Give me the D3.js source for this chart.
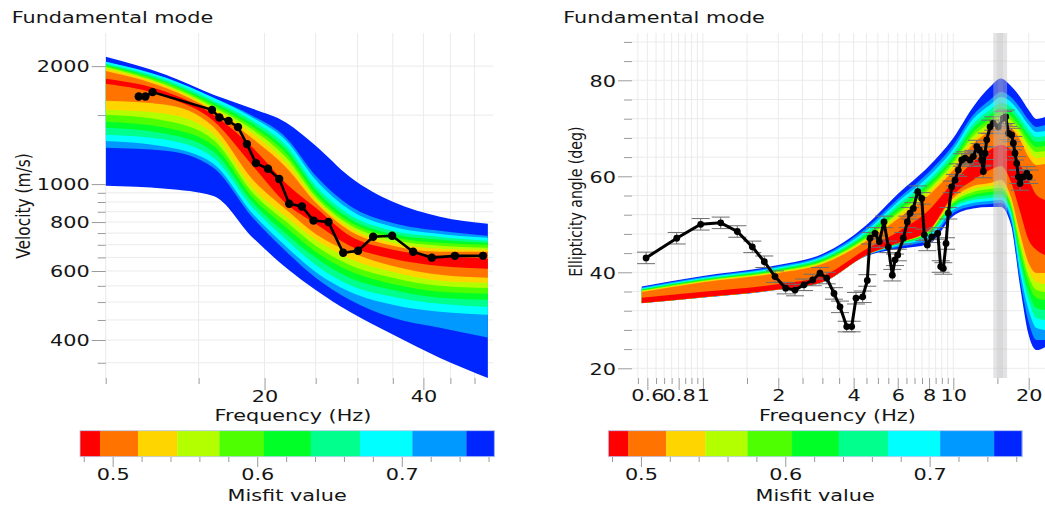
<!DOCTYPE html>
<html><head><meta charset="utf-8">
<script src="https://cdn.jsdelivr.net/npm/d3@7"></script>
<style>
html,body{margin:0;padding:0;background:#fff;}
svg text{font-family:"DejaVu Sans",sans-serif;fill:#151515;}
</style></head>
<body><svg id="c" width="1045" height="507"></svg>
<script>
// ---------- misfit classes (colour bar, best -> worst) ----------
const misfitColors = ["#ff0000","#ff7300","#ffd500","#b3ff00","#4dff00","#00ff26","#00ff8c","#00ffff","#0099ff","#0026ff"];
const misfitEdges  = [0.4774,0.4912,0.5175,0.5447,0.5738,0.6047,0.637,0.6711,0.7073,0.7447,0.764];
const misfitTicks  = [0.48,0.50,0.52,0.54,0.56,0.58,0.60,0.62,0.64,0.66,0.68,0.70,0.72,0.74,0.76];
const misfitLabels = [0.5,0.6,0.7];

// ---------- dispersion (left) ----------
const dispBandFreq = [10,13,16,19,22,25,29,35,43,53];
// velocity envelopes (m/s) of each misfit class, worst (blue) first -> best (red) last
const dispUpper = [
 [2112,1900,1690,1556,1434,1253,1044,901,825,792],
 [2051,1867,1660,1493,1312,1050,881,796,760,738],
 [2051,1867,1660,1476,1289,1026,860,778,746,730],
 [2027,1845,1631,1450,1253,990,835,760,733,717],
 [2015,1823,1612,1425,1223,967,816,746,721,708],
 [2003,1813,1593,1400,1195,945,801,733,708,700],
 [1991,1792,1574,1376,1167,928,787,721,696,688],
 [1969,1781,1556,1344,1133,912,774,708,684,680],
 [1945,1760,1538,1305,1101,897,760,696,672,672],
 [1856,1720,1502,1238,1002,870,738,680,656,645]
];
const dispLower = [
 [990,973,933,730,611,537,472,413,360,320],
 [1238,1216,1101,821,672,577,507,456,430,406],
 [1289,1245,1127,840,692,597,531,492,472,464],
 [1336,1297,1167,870,721,622,553,516,495,486],
 [1392,1344,1209,897,746,649,577,537,513,507],
 [1442,1392,1253,923,774,672,600,556,531,525],
 [1502,1450,1297,950,801,696,622,577,550,543],
 [1547,1511,1344,978,825,721,645,597,567,560],
 [1631,1593,1400,1026,860,746,672,618,587,577],
 [1803,1670,1450,1113,891,792,696,645,618,608]
];
const dispFreq = [11.55,11.89,12.27,15.9,16.42,17.09,17.81,18.52,19.26,20.3,21.32,22.27,23.54,24.76,26.43,28.19,30.08,32.13,34.9,38.25,41.5,45.9,51.9];
const dispVel  = [1673,1673,1717,1547,1479,1450,1398,1265,1131,1094,1030,891,877,807,800,668,676,734,738,672,649,656,656];
const dispFreqTicks  = [10,15,20,25,30,35,40,45,50];
const dispFreqLabels = [20,40];
const dispVelTicks   = [350,400,450,500,550,600,650,700,750,800,850,900,950,1000,1500,2000];
const dispVelLabels  = [400,600,800,1000,2000];

// ---------- ellipticity (right) ----------
const ellBandFreq = [0.57,1,2,3,4.5,6,8,10,12,14,15.5,17,18.5,20,21.5,23.3];
const ellUpper = [
 [37.04,39.23,41.52,43.81,49.85,56.31,62.15,67.98,74.44,78.60,80.37,78.81,76.52,73.81,71.94,72.35],
 [36.83,39.02,41.25,43.50,49.23,55.27,60.90,66.52,72.77,75.90,77.56,76.52,74.23,71.73,70.27,70.69],
 [36.67,38.81,41.00,43.19,48.71,54.65,60.06,65.69,71.94,74.85,76.52,75.48,73.19,70.69,69.23,69.44],
 [36.52,38.65,40.79,42.92,48.29,54.02,59.23,64.85,70.90,73.81,75.27,74.44,72.15,69.65,68.19,68.40],
 [36.40,38.50,40.58,42.67,47.88,53.40,58.60,64.02,70.06,72.77,74.23,73.40,71.10,68.60,67.15,67.35],
 [36.27,38.35,40.38,42.42,47.46,52.77,57.98,63.40,69.23,71.94,73.40,72.56,70.27,67.56,66.10,66.31],
 [36.15,38.21,40.21,42.19,47.15,52.25,57.35,62.77,68.40,71.10,72.56,71.73,69.44,66.52,65.06,65.27],
 [36.04,38.08,40.06,41.94,46.83,51.73,56.73,62.15,67.56,70.27,71.73,70.90,68.60,65.48,63.81,64.02],
 [35.90,37.94,39.85,41.73,46.52,51.10,56.10,61.31,66.73,69.44,70.69,70.06,67.56,64.02,62.35,62.56],
 [34.69,35.94,37.56,39.23,44.85,48.40,52.98,58.81,63.00,65.48,66.52,65.48,62.35,59.23,56.10,55.06]
];
const ellLower = [
 [33.56,34.75,36.35,37.88,43.40,44.85,45.90,51.73,53.29,53.60,53.60,49.85,36.94,26.94,23.81,24.44],
 [33.60,34.77,36.40,37.92,43.50,45.27,46.73,52.35,53.81,54.23,54.44,50.69,38.40,29.65,25.90,25.90],
 [33.60,34.79,36.42,37.94,43.54,45.58,47.35,52.98,54.44,54.85,55.06,51.52,40.06,32.15,28.40,27.98],
 [33.60,34.79,36.42,37.98,43.60,45.79,47.77,53.40,55.06,55.48,55.69,52.35,41.52,34.23,30.48,30.06],
 [33.60,34.79,36.42,37.98,43.60,45.90,48.08,53.81,55.58,56.10,56.31,52.98,42.98,35.90,32.56,32.15],
 [33.60,34.79,36.42,37.98,43.60,46.00,48.29,54.23,56.10,56.73,56.94,53.60,44.23,37.56,34.65,34.23],
 [33.60,34.79,36.42,37.98,43.60,46.06,48.50,54.65,56.73,57.35,57.56,54.23,45.48,39.02,36.31,35.90],
 [33.60,34.79,36.42,37.98,43.60,46.10,48.60,55.06,57.35,57.98,58.19,54.85,46.73,40.48,37.98,37.56],
 [33.60,34.79,36.42,37.98,43.60,46.10,48.71,55.48,57.98,58.60,59.23,55.69,47.98,41.94,39.85,39.85],
 [33.60,34.79,36.42,37.98,43.60,46.10,48.81,56.10,59.23,61.31,62.15,58.81,52.56,46.73,44.65,43.60]
];
const ellFreq = [0.593,0.786,0.980,1.178,1.372,1.575,1.759,1.941,2.141,2.333,2.534,2.745,2.935,3.122,3.339,3.528,3.753,3.929,4.088,4.347,4.535,4.65,4.868,5.065,5.289,5.50,5.708,5.852,5.999,6.316,6.553,6.717,6.923,7.21,7.48,7.66,7.875,8.20,8.665,8.907,9.125,9.354,9.553,9.857,10.16,10.47,10.81,11.14,11.66,12.02,12.41,12.71,12.99,13.18,13.39,13.6,14.02,14.45,15.13,15.85,16.20,16.59,17.11,17.37,17.64,17.92,18.19,18.47,19.04,19.65,20.12];
const ellAngle = [43.0,47.1,50.0,50.3,48.5,45.3,42.2,39.1,36.7,36.3,37.4,38.4,39.8,38.8,35.6,32.8,28.7,28.7,34.6,34.9,38.3,47.1,48.1,46.4,50.5,45.3,39.4,42.6,43.6,47.1,50.5,52.3,53.3,56.8,55.4,47.8,45.7,47.4,48.1,41.2,40.8,46.0,52.3,57.8,59.2,61.3,63.4,63.8,63.4,64.1,66.2,65.5,63.4,61.0,64.8,67.6,70.3,71.0,70.3,72.1,72.4,69.0,68.6,66.9,64.8,62.7,59.9,58.5,59.9,60.6,59.9];
const ellErr   = [1.2,1.2,1.2,1.2,1.2,1.2,1.2,1.2,1.2,1.2,1.2,1.2,1.2,1.2,1.2,1.2,1.1,1.1,1.2,1.2,1.2,1.2,1.2,1.2,1.2,1.2,1.2,1.2,1.2,1.2,1.2,1.2,1.2,1.2,1.2,1.2,1.2,1.2,1.2,1.2,1.2,1.2,1.2,1.2,1.2,1.3,1.3,1.3,1.3,1.3,1.3,1.3,1.3,1.3,1.3,1.4,1.4,1.4,1.4,1.4,1.4,1.4,1.4,1.4,1.4,1.4,1.4,1.4,1.4,1.4,1.4];
const ellFreqTicks  = [0.55,0.6,0.65,0.7,0.75,0.8,0.85,0.9,0.95,1,1.5,2,2.5,3,3.5,4,4.5,5,5.5,6,6.5,7,7.5,8,8.5,9,9.5,10,15,20];
const ellFreqLabels = [0.6,0.8,1,2,4,6,8,10,20];
const ellAngleTicks = [20,24,28,32,36,40,44,48,52,56,60,64,68,72,76,80,84,88];
const ellAngleLabels= [20,40,60,80];
const peakBand = [14.45,16.4];
const peakCore = [15.1,15.8];

// ---------- drawing ----------
const SX = 1.3, FS = 16;
const svg = d3.select('#c');
const bandColors = misfitColors.slice().reverse(); // worst -> best
svg.append('defs');

function stext(g, x, y, s, anchor, size, rot){
  return g.append('text')
    .attr('transform', `translate(${x},${y}) scale(${SX},1)` + (rot ? ' rotate(-90)' : ''))
    .attr('text-anchor', anchor).style('font-size', size + 'px').text(s);
}

function panel(opt){
  const g = svg.append('g');
  const {x, y, xTicks, xLabels, yTicks, yLabels, x0, x1, y0, y1, clipId} = opt;
  g.append('g').selectAll('line').data(xTicks).join('line')
    .attr('x1', d => x(d)).attr('x2', d => x(d)).attr('y1', y0).attr('y2', y1)
    .attr('stroke', '#ebebeb').attr('stroke-width', 1);
  g.append('g').selectAll('line').data(yTicks).join('line')
    .attr('x1', x0).attr('x2', x1).attr('y1', d => y(d)).attr('y2', d => y(d))
    .attr('stroke', '#ebebeb').attr('stroke-width', 1);
  const fmt = d => String(d);
  const axM = g.append('g').attr('transform', `translate(0,${y1})`)
    .call(d3.axisBottom(x).tickValues(xTicks.filter(t => !xLabels.includes(t))).tickSize(6).tickFormat(''));
  const axJ = g.append('g').attr('transform', `translate(0,${y1})`)
    .call(d3.axisBottom(x).tickValues(xLabels).tickSize(12).tickFormat(fmt));
  const ayM = g.append('g').attr('transform', `translate(${x0},0)`)
    .call(d3.axisLeft(y).tickValues(yTicks.filter(t => !yLabels.includes(t))).tickSize(8).tickFormat(''));
  const ayJ = g.append('g').attr('transform', `translate(${x0},0)`)
    .call(d3.axisLeft(y).tickValues(yLabels).tickSize(14).tickFormat(fmt));
  [axM, axJ, ayM, ayJ].forEach(a => { a.select('.domain').remove(); a.selectAll('line').attr('stroke', '#9a9a9a'); });
  axJ.selectAll('text').attr('y', null).attr('dy', null).attr('fill', null)
    .attr('transform', `translate(0,${opt.xLabelBase - y1}) scale(${SX},1)`).style('font-size', FS + 'px');
  ayJ.selectAll('text').attr('x', null).attr('dy', null).attr('fill', null)
    .attr('transform', `translate(-16,5.8) scale(${SX},1)`).style('font-size', FS + 'px');
  g.selectAll('.tick text').style('font-family', '"DejaVu Sans",sans-serif');
  svg.select('defs').append('clipPath').attr('id', clipId)
    .append('rect').attr('x', x0).attr('y', y0).attr('width', x1 - x0).attr('height', y1 - y0);
  return g;
}

// ---- left panel ----
const xL = d3.scaleLog().domain([10, 54.2]).range([105.7, 493]);
const yL = d3.scaleLog().domain([320, 2430]).range([378, 33]);
const gL = panel({x: xL, y: yL, xTicks: dispFreqTicks, xLabels: dispFreqLabels, yTicks: dispVelTicks, yLabels: dispVelLabels,
  x0: 105.7, x1: 493, y0: 33, y1: 378, clipId: 'clipL', xLabelBase: 402});
const bandsL = gL.append('g').attr('clip-path', 'url(#clipL)');
const areaL = d3.area().x((d, i) => xL(dispBandFreq[i])).y0(d => yL(d[1])).y1(d => yL(d[0])).curve(d3.curveMonotoneX);
dispUpper.forEach((up, k) => {
  bandsL.append('path').attr('d', areaL(up.map((u, i) => [u, dispLower[k][i]]))).attr('fill', bandColors[k]);
});
const lineL = d3.line().x((d, i) => xL(dispFreq[i])).y(d => yL(d));
bandsL.append('path').attr('d', lineL(dispVel)).attr('fill', 'none').attr('stroke', '#000').attr('stroke-width', 2.6);
bandsL.append('g').selectAll('circle').data(dispVel).join('circle')
  .attr('cx', (d, i) => xL(dispFreq[i])).attr('cy', d => yL(d)).attr('r', 4.2).attr('fill', '#000');

stext(svg, 11.7, 23.3, 'Fundamental mode', 'start', FS);
stext(svg, 293, 421, 'Frequency (Hz)', 'middle', FS);
stext(svg, 29.5, 206, 'Velocity (m/s)', 'middle', 15.4, true);

// ---- right panel ----
const xR = d3.scaleLog().domain([0.521, 24]).range([632, 1048.5]);
const yR = d3.scaleLinear().domain([18, 90]).range([377.9, 32.3]);
const gR = panel({x: xR, y: yR, xTicks: ellFreqTicks, xLabels: ellFreqLabels, yTicks: ellAngleTicks, yLabels: ellAngleLabels,
  x0: 632, x1: 1048.5, y0: 33, y1: 378, clipId: 'clipR', xLabelBase: 400.5});
const bandsR = gR.append('g').attr('clip-path', 'url(#clipR)');
const areaR = d3.area().x((d, i) => xR(ellBandFreq[i])).y0(d => yR(d[1])).y1(d => yR(d[0])).curve(d3.curveMonotoneX);
ellUpper.forEach((up, k) => {
  bandsR.append('path').attr('d', areaR(up.map((u, i) => [u, ellLower[k][i]]))).attr('fill', bandColors[k]);
});
const eb = bandsR.append('g').attr('stroke', '#6e6e6e').attr('stroke-width', 1);
ellAngle.forEach((a, i) => {
  const cx = xR(ellFreq[i]), ya = yR(a + ellErr[i]), yb = yR(a - ellErr[i]);
  eb.append('line').attr('x1', cx).attr('x2', cx).attr('y1', ya).attr('y2', yb);
  eb.append('line').attr('x1', cx - 9).attr('x2', cx + 9).attr('y1', ya).attr('y2', ya);
  eb.append('line').attr('x1', cx - 9).attr('x2', cx + 9).attr('y1', yb).attr('y2', yb);
});
const lineR = d3.line().x((d, i) => xR(ellFreq[i])).y(d => yR(d));
bandsR.append('path').attr('d', lineR(ellAngle)).attr('fill', 'none').attr('stroke', '#000').attr('stroke-width', 3);
bandsR.append('g').selectAll('circle').data(ellAngle).join('circle')
  .attr('cx', (d, i) => xR(ellFreq[i])).attr('cy', d => yR(d)).attr('r', 3.4).attr('fill', '#000');
bandsR.append('rect').attr('x', xR(peakBand[0])).attr('width', xR(peakBand[1]) - xR(peakBand[0]))
  .attr('y', 33).attr('height', 345).attr('fill', '#c0c0c4').attr('opacity', 0.45);
bandsR.append('rect').attr('x', xR(peakCore[0])).attr('width', xR(peakCore[1]) - xR(peakCore[0]))
  .attr('y', 33).attr('height', 345).attr('fill', '#b0b0b4').attr('opacity', 0.2);

stext(svg, 563.3, 23.3, 'Fundamental mode', 'start', FS);
stext(svg, 837.5, 421, 'Frequency (Hz)', 'middle', FS);
stext(svg, 581.5, 201.7, 'Ellipticity angle (deg)', 'middle', 14.1, true);

// ---- colour bars ----
function colorbar(x0, x1){
  const s = d3.scaleLinear().domain([misfitEdges[0], misfitEdges[misfitEdges.length - 1]]).range([x0, x1]);
  const g = svg.append('g');
  g.selectAll('rect').data(misfitColors).join('rect')
    .attr('x', (d, i) => s(misfitEdges[i])).attr('width', (d, i) => s(misfitEdges[i + 1]) - s(misfitEdges[i]) + 0.3)
    .attr('y', 430.7).attr('height', 26).attr('fill', d => d);
  g.append('rect').attr('x', x0).attr('y', 430.7).attr('width', x1 - x0).attr('height', 26)
    .attr('fill', 'none').attr('stroke', '#b8c8f0').attr('stroke-width', 0.8);
  const aM = g.append('g').attr('transform', 'translate(0,457)')
    .call(d3.axisBottom(s).tickValues(misfitTicks.filter(t => !misfitLabels.includes(t))).tickSize(5).tickFormat(''));
  const aJ = g.append('g').attr('transform', 'translate(0,457)')
    .call(d3.axisBottom(s).tickValues(misfitLabels).tickSize(10).tickFormat(d3.format('.1f')));
  [aM, aJ].forEach(a => { a.select('.domain').remove(); a.selectAll('line').attr('stroke', '#9a9a9a'); });
  aJ.selectAll('text').attr('y', null).attr('dy', null).attr('fill', null)
    .attr('transform', `translate(0,${479.5 - 457}) scale(${SX},1)`).style('font-size', FS + 'px')
    .style('font-family', '"DejaVu Sans",sans-serif');
  stext(svg, (x0 + x1) / 2, 500.5, 'Misfit value', 'middle', FS);
}
colorbar(80, 494.3);
colorbar(608.3, 1022);
</script>
</body></html>
